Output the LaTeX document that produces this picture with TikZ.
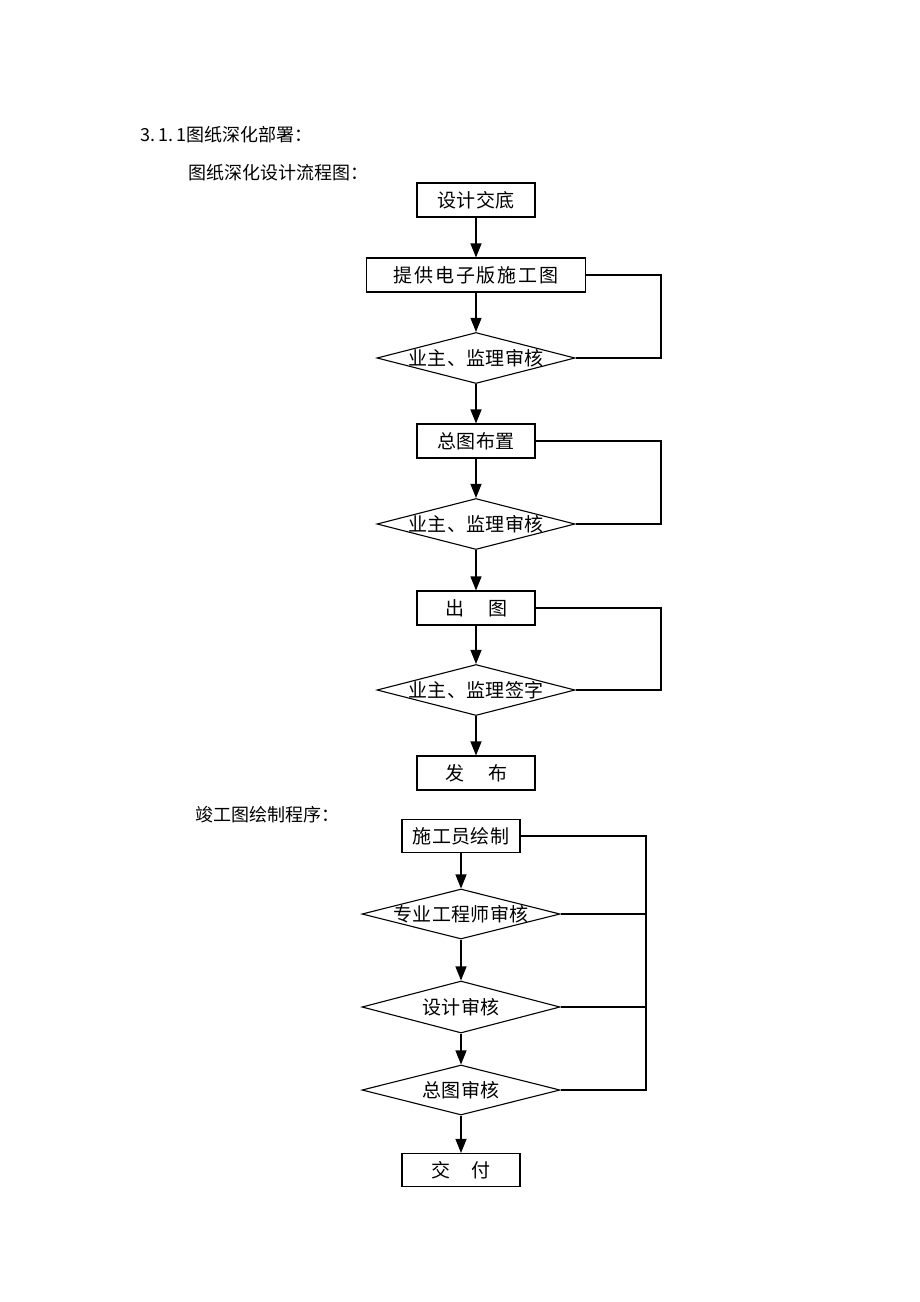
\documentclass[tikz,border=0pt]{standalone}
\usepackage{fontspec}
\newfontfamily\cjk{Noto Sans CJK SC}
\usetikzlibrary{shapes.geometric,arrows.meta}
\begin{document}
\begin{tikzpicture}[x=1pt,y=-1pt,
  every node/.style={font=\cjk\fontsize{19}{19}\selectfont\addfontfeature{LetterSpace=2}},
  stepbox/.style={draw, line width=1.1pt, minimum width=118pt, minimum height=34pt, inner sep=0pt},
  dia/.style={draw, diamond, line width=1.1pt, minimum width=198pt, minimum height=51pt, inner sep=0pt},
  arr/.style={line width=1.1pt, -{Triangle[length=14pt,width=11pt]}},
  fb/.style={line width=1.1pt},
  heading/.style={anchor=west, inner sep=0pt, font=\cjk\fontsize{18}{18}\selectfont}]
\useasboundingbox (0,0) rectangle (920,1302);
\fill[white] (0,0) rectangle (920,1302);

\node[heading] (t1) at (140,135) {3.\hspace{3pt}1.\hspace{3pt}1图纸深化部署：};
\node[heading] (t2) at (188,173) {图纸深化设计流程图：};
\node[heading] (t3) at (195,815) {竣工图绘制程序：};

% first chart
\node[stepbox] (a1) at (476,200) {设计交底};
\node[stepbox, minimum width=219pt] (a2) at (476,275) {\addfontfeature{LetterSpace=10}提供电子版施工图};
\node[dia, label={center:业主、监理审核}] (ad1) at (476,358) {};
\node[stepbox] (a3) at (476,441) {总图布置};
\node[dia, label={center:业主、监理审核}] (ad2) at (476,524) {};
\node[stepbox] (a4) at (476,608) {出\hspace{24pt}图};
\node[dia, label={center:业主、监理签字}] (ad3) at (476,690) {};
\node[stepbox] (a5) at (476,773) {发\hspace{24pt}布};
\coordinate (ra) at (661,0);

\draw[arr] (a1) -- (a2);
\draw[arr] (a2) -- (ad1.north);
\draw[arr] (ad1.south) -- (a3);
\draw[arr] (a3) -- (ad2.north);
\draw[arr] (ad2.south) -- (a4);
\draw[arr] (a4) -- (ad3.north);
\draw[arr] (ad3.south) -- (a5);
\draw[fb] (a2.east) -- (a2.east -| ra) |- (ad1.east);
\draw[fb] (a3.east) -- (a3.east -| ra) |- (ad2.east);
\draw[fb] (a4.east) -- (a4.east -| ra) |- (ad3.east);

% second chart
\node[stepbox, minimum height=33pt] (b1) at (461,836) {施工员绘制};
\node[dia, minimum height=50pt, label={center:专业工程师审核}] (bd1) at (461,914) {};
\node[dia, minimum height=52pt, label={center:设计审核}] (bd2) at (461,1007) {};
\node[dia, minimum height=50pt, label={center:总图审核}] (bd3) at (461,1090) {};
\node[stepbox, minimum height=33pt] (b2) at (461,1170) {交\hspace{21pt}付};
\coordinate (rb) at (646,0);

\draw[arr] (b1) -- (bd1.north);
\draw[arr] (bd1.south) -- (bd2.north);
\draw[arr] (bd2.south) -- (bd3.north);
\draw[arr] (bd3.south) -- (b2);
\draw[fb] (b1.east) -- (b1.east -| rb) |- (bd3.east);
\draw[fb] (bd1.east) -- (bd1.east -| rb);
\draw[fb] (bd2.east) -- (bd2.east -| rb);
\end{tikzpicture}
\end{document}
